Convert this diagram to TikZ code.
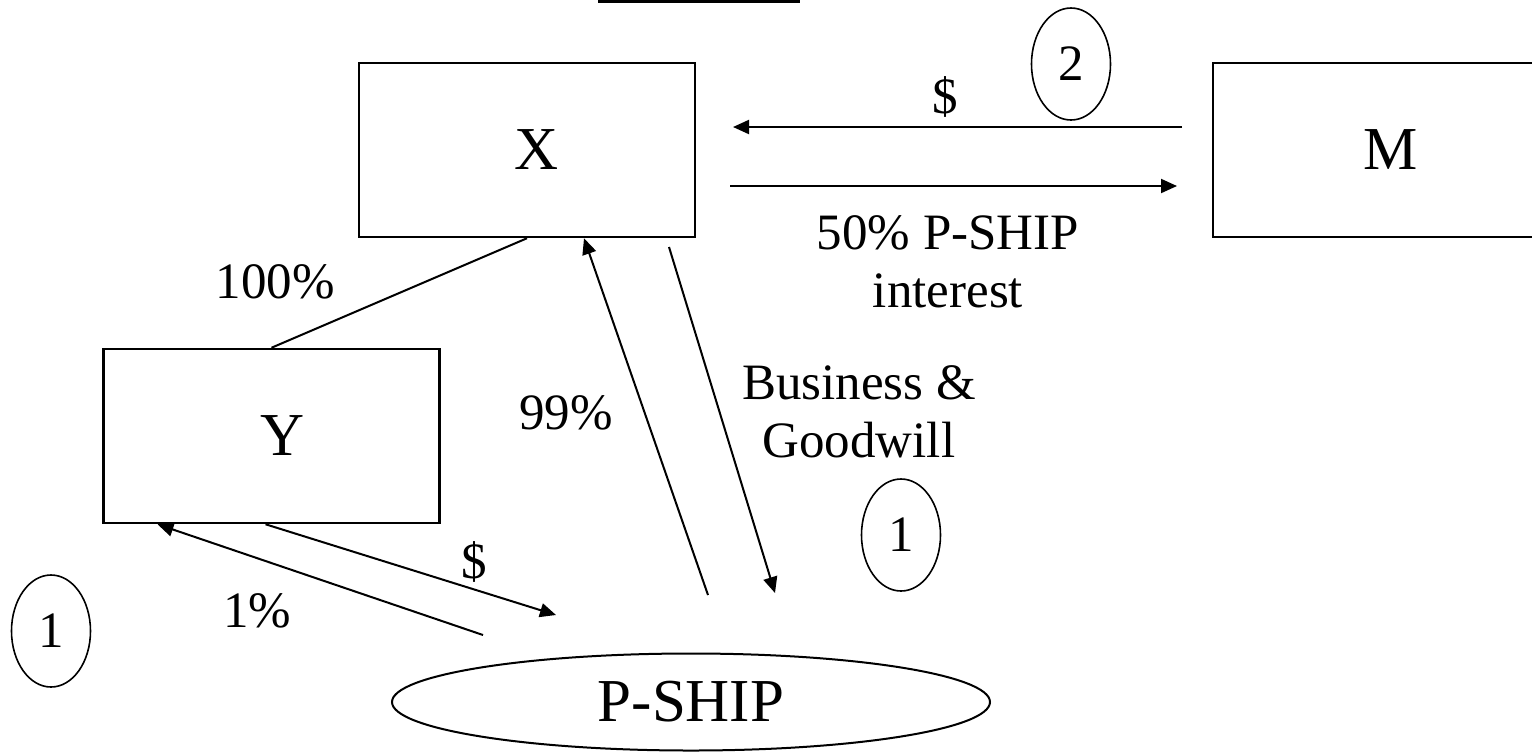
\documentclass[tikz,border=0pt]{standalone}
\usepackage{fontspec}
\setmainfont{Liberation Serif}
\usetikzlibrary{arrows.meta,shapes.geometric}

\begin{document}
\begin{tikzpicture}[
			x=0.5pt,y=-0.5pt,
			entity/.style={
				rectangle,
				draw=black,
				line width=1.25pt,
				minimum width=168pt,
				minimum height=87pt,
				inner sep=0pt,
				font=\fontsize{30.5}{36}\selectfont
			},
			pship/.style={
				ellipse,
				draw=black,
				line width=1pt,
				minimum width=299pt,
				minimum height=48.5pt,
				inner sep=0pt,
				font=\fontsize{30.5}{36}\selectfont
			},
			stepmark/.style={
				ellipse,
				draw=black,
				line width=0.8pt,
				minimum width=39.5pt,
				minimum height=56pt,
				inner sep=0pt,
				font=\fontsize{25.5}{29}\selectfont
			},
			lbl/.style={inner sep=0pt,align=center,font=\fontsize{25.5}{29}\selectfont},
			arrow/.style={-{Triangle[length=8pt,width=7pt]},line width=1pt,draw=black},
			link/.style={line width=1pt,draw=black}
			]
			\useasboundingbox (0,0) rectangle (1532,752);
			
			\node[entity] (x) at (527,150) {\hspace*{10pt}X};
			\node[entity] (y) at (271.5,436) {\hspace*{11pt}Y};
			\node[entity] (m) at (1381,150) {\hspace*{10pt}M};
			\node[pship] (ps) at (691,702) {P-SHIP};
			
			\node[stepmark] (stepa) at (51,631) {1};
			\node[stepmark] (stepb) at (901,535) {1};
			\node[stepmark] (stepc) at (1071,64) {2};
			
			\node[lbl] (lhundred) at (275,282) {100\%};
			\node[lbl] (lninety) at (566,413) {99\%};
			\node[lbl] (lone) at (257,611) {1\%};
			\node[lbl] (lcashy) at (474,562) {\$};
			\node[lbl] (lcashm) at (945,97) {\$};
			\node[lbl] (linterest) at (948,262) {50\% P-SHIP\\interest};
			\node[lbl] (lbusiness) at (859,412) {Business \&\\Goodwill};
			
			\coordinate (titlel) at (598,1.5);
			\coordinate (titler) at (800,1.5);
			\coordinate (cashfrom) at (1182,127);
			\coordinate (cashto) at (733,127);
			\coordinate (sharefrom) at (730,186);
			\coordinate (shareto) at (1177,186);
			\coordinate (votefrom) at (708,595);
			\coordinate (bizfrom) at (669,247);
			\coordinate (bizto) at (775,593);
			\coordinate (ycashto) at (556,615);
			\coordinate (onefrom) at (483,635);
			
			\draw[line width=1.5pt] (titlel) -- (titler);
			\draw[arrow] (cashfrom) -- (cashto);
			\draw[arrow] (sharefrom) -- (shareto);
			\draw[link] (x.south) -- (y.north);
			\draw[arrow] (votefrom) -- ([xshift=28.5pt]x.south);
			\draw[arrow] (bizfrom) -- (bizto);
			\draw[arrow] ([xshift=-3pt]y.south) -- (ycashto);
			\draw[arrow] (onefrom) -- ([xshift=-57pt]y.south);
		\end{tikzpicture}
\end{document}
